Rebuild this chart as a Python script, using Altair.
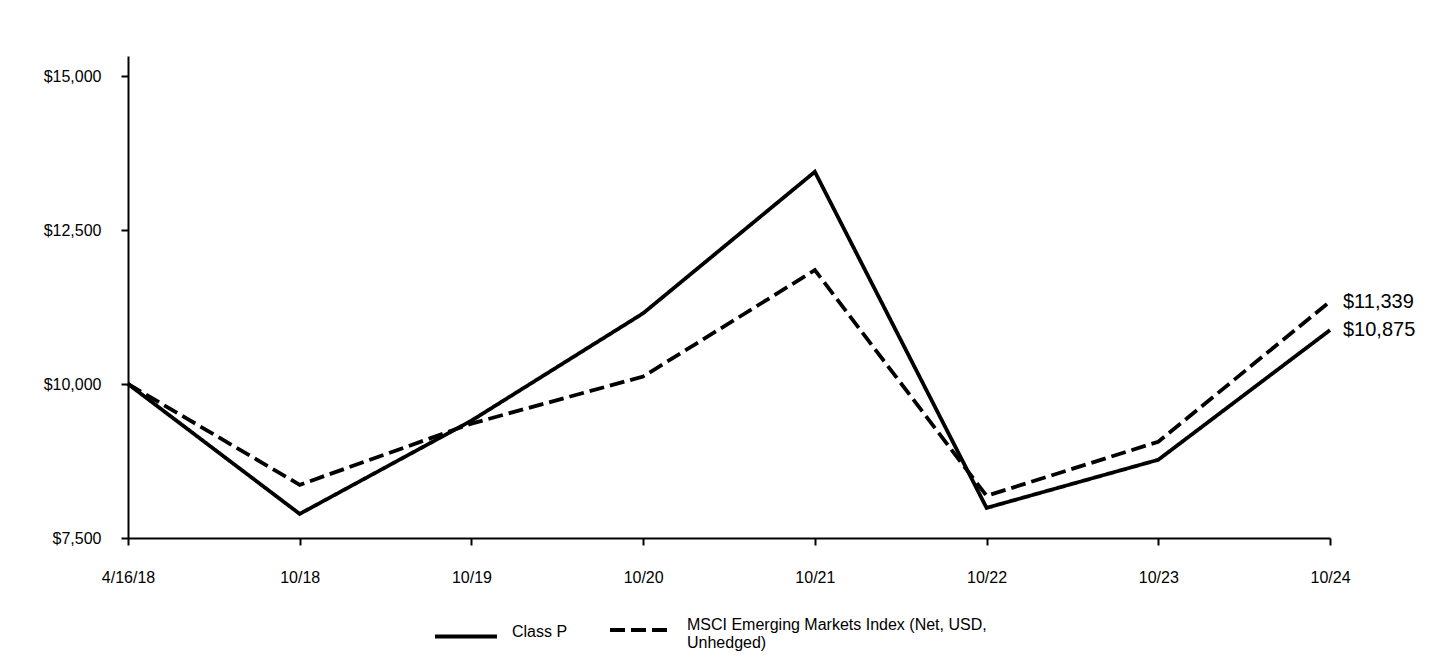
import altair as alt
import pandas as pd

dates = ["4/16/18", "10/18", "10/19", "10/20", "10/21", "10/22", "10/23", "10/24"]
class_p = [10000, 7891, 9405, 11148, 13445, 7989, 8770, 10875]
msci = [10000, 8363, 9357, 10122, 11849, 8184, 9063, 11339]
series_names = ["Class P", "MSCI Emerging Markets Index (Net, USD, Unhedged)"]

rows = []
for i, d in enumerate(dates):
    rows.append({"date": d, "order": i, "series": series_names[0], "value": class_p[i]})
    rows.append({"date": d, "order": i, "series": series_names[1], "value": msci[i]})
df = pd.DataFrame(rows)

end_df = pd.DataFrame([
    {"date": dates[-1], "series": series_names[0], "value": class_p[-1],
     "label": "${:,}".format(class_p[-1])},
    {"date": dates[-1], "series": series_names[1], "value": msci[-1],
     "label": "${:,}".format(msci[-1])},
])

font = "Liberation Sans"

x_enc = alt.X("date:O", sort=dates, scale=alt.Scale(type="point", padding=0),
              axis=alt.Axis(title=None, labelAngle=0, labelFontSize=16, labelFont=font,
                            labelColor="black", domainColor="black", domainWidth=2,
                            tickColor="black", tickWidth=2, tickSize=7, labelPadding=24,
                            grid=False))
y_enc = alt.Y("value:Q", scale=alt.Scale(domain=[7500, 15325], nice=False, zero=False),
              axis=alt.Axis(title=None, values=[7500, 10000, 12500, 15000],
                            format="$,.0f", labelFontSize=16, labelFont=font,
                            labelColor="black", domainColor="black", domainWidth=2,
                            tickColor="black", tickWidth=2, tickSize=7, labelPadding=20,
                            grid=False))

lines = alt.Chart(df).mark_line(color="black", strokeWidth=3.8).encode(
    x=x_enc,
    y=y_enc,
    detail="series:N",
    strokeDash=alt.StrokeDash(
        "series:N",
        scale=alt.Scale(domain=series_names, range=[[1, 0], [15, 6]]),
        legend=alt.Legend(
            title=None, orient="none", legendX=305, legendY=541, direction="horizontal",
            symbolType="stroke", symbolSize=3844, symbolStrokeWidth=4,
            symbolStrokeColor="black", labelFontSize=16, labelFont=font,
            labelColor="black", labelOffset=13, columnPadding=34, labelLimit=500,
            labelBaseline="alphabetic", padding=0,
            labelExpr="datum.label == 'Class P' ? 'Class P' : ['MSCI Emerging Markets Index (Net, USD,', 'Unhedged)']",
        ),
    ),
)

labels = alt.Chart(end_df).mark_text(align="left", baseline="middle", dx=13, fontSize=20,
                                     font=font, color="black").encode(
    x=alt.X("date:O", sort=dates),
    y="value:Q",
    text="label:N",
)

chart = (lines + labels).properties(
    width=1202, height=482,
    autosize=alt.AutoSizeParams(type="none"),
    padding={"left": 120, "top": 48, "right": 102, "bottom": 114},
    background="white",
).configure_view(strokeWidth=0, stroke="transparent")

chart.save("out.html", embed_options={"renderer": "svg", "actions": False})
